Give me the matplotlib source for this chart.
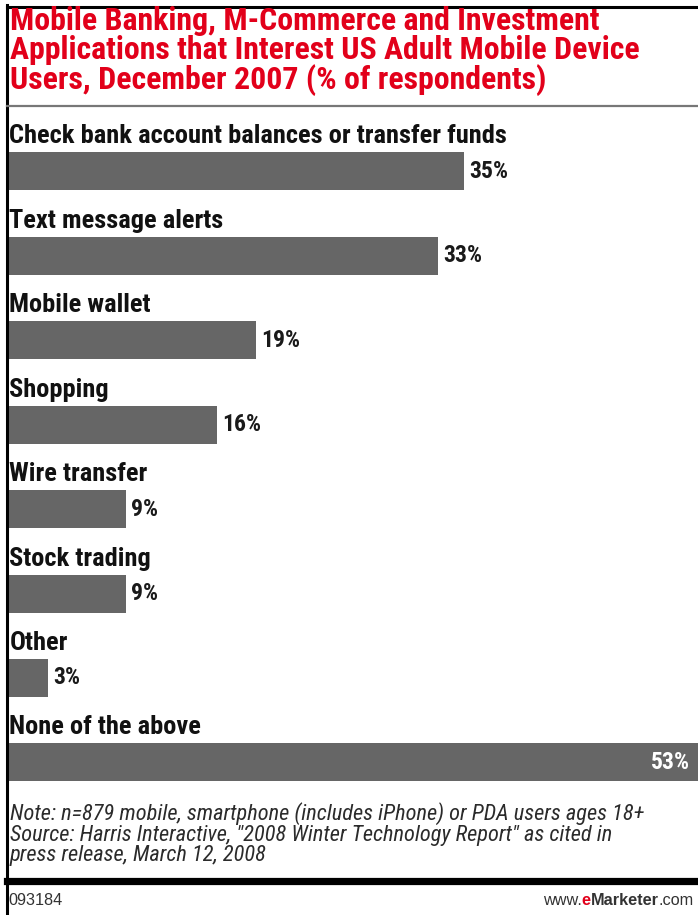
import matplotlib
matplotlib.use("Agg")
import matplotlib.pyplot as plt
from matplotlib import font_manager

W, H = 698, 915

categories = [
    "Check bank account balances or transfer funds",
    "Text message alerts",
    "Mobile wallet",
    "Shopping",
    "Wire transfer",
    "Stock trading",
    "Other",
    "None of the above",
]
values = [35, 33, 19, 16, 9, 9, 3, 53]

title_lines = [
    "Mobile Banking, M-Commerce and Investment",
    "Applications that Interest US Adult Mobile Device",
    "Users, December 2007 (% of respondents)",
]
note_lines = [
    "Note: n=879 mobile, smartphone (includes iPhone) or PDA users ages 18+",
    "Source: Harris Interactive, \"2008 Winter Technology Report\" as cited in",
    "press release, March 12, 2008",
]

RED = "#E2001A"
BAR = "#666666"

avail = {f.name for f in font_manager.fontManager.ttflist}


def pick(*cands):
    return next((c for c in cands if c in avail), "DejaVu Sans")


COND = pick("Roboto Condensed", "Archivo Narrow", "Asap Condensed",
            "Liberation Sans Narrow", "Liberation Sans")
REG = pick("Liberation Sans", "Arimo", "DejaVu Sans")


def fx(x):
    return x / W


def fy(y):
    return 1 - y / H


fig = plt.figure(figsize=(W / 100, H / 100), dpi=100)
fig.patch.set_facecolor("white")
renderer = fig.canvas.get_renderer()


def fit(text, target_px, **kw):
    # font size that gives the text the width it has in the picture
    t = fig.text(0, 0, text, fontsize=20, **kw)
    w = t.get_window_extent(renderer).width
    t.remove()
    return 20 * target_px / w


# frame lines
fig.add_artist(plt.Line2D([fx(7.5), fx(7.5)], [0, fy(5)], color="black", lw=2.2))
fig.add_artist(plt.Line2D([fx(6.5), 1], [fy(6.5), fy(6.5)], color="black", lw=2.2))
fig.add_artist(plt.Line2D([fx(7.5), 1], [fy(106), fy(106)], color="#777777", lw=1.6))
fig.add_artist(plt.Line2D([fx(6.5), 1], [fy(881), fy(881)], color="black", lw=5.2))

# title
tkw = dict(fontweight="bold", family=COND)
ts = fit(title_lines[0], 588, **tkw)
for line, base in zip(title_lines, [29.5, 59, 88.5]):
    fig.text(fx(10), fy(base), line, ha="left", va="baseline", color=RED,
             fontsize=ts, **tkw)

# bars: bar i is centred at pixel row 171.3 + i * 84.45
pitch = 84.45
top_px, bot_px = 171.3 - 1.0 * pitch, 171.3 + 7.6 * pitch
ax = fig.add_axes([fx(9.3), fy(bot_px), 1 - fx(9.3), (bot_px - top_px) / H])
ax.set_xlim(0, 53)
ax.set_ylim(7.6, -1.0)
ax.axis("off")

lkw = dict(fontweight="bold", family=COND)
ls = fit(categories[0], 498, **lkw)
vs = fit("35%", 39, **lkw)

ypos = list(range(len(categories)))
ax.barh(ypos, values, height=0.45, color=BAR, edgecolor="none")
for y, cat, v in zip(ypos, categories, values):
    ax.text(0, y - 0.225 - 9 / pitch, cat, ha="left", va="baseline",
            fontsize=ls, color="#111111", **lkw)
    if v == max(values):
        ax.annotate(f"{v}%", (v, y), xytext=(-6, 0), textcoords="offset points",
                    ha="right", va="center", fontsize=vs, color="white", **lkw)
    else:
        ax.annotate(f"{v}%", (v, y), xytext=(3.6, 0), textcoords="offset points",
                    ha="left", va="center", fontsize=vs, color="#1a1a1a", **lkw)

# note / source
nkw = dict(style="italic", family=COND)
ns = fit(note_lines[0], 635, **nkw)
for line, base in zip(note_lines, [820, 840.5, 861]):
    fig.text(fx(10), fy(base), line, ha="left", va="baseline", color="#2b2b2b",
             fontsize=ns, **nkw)

# footer
fs = fit("www.eMarketer.com", 150, family=REG) * 0.97
fig.text(fx(8.5), fy(905), "093184", ha="left", va="baseline", fontsize=fs,
         family=REG, color="#333333")
x_right = fx(694)
for piece, kw in [(".com", {}), ("Marketer", {"fontweight": "bold"}),
                  ("e", {"fontweight": "bold", "color": RED}), ("www.", {})]:
    opts = {"fontsize": fs, "family": REG, "color": "#333333"}
    opts.update(kw)
    t = fig.text(x_right, fy(905), piece, ha="right", va="baseline", **opts)
    x_right -= t.get_window_extent(renderer).width / W

fig.savefig("out.png", dpi=100)
